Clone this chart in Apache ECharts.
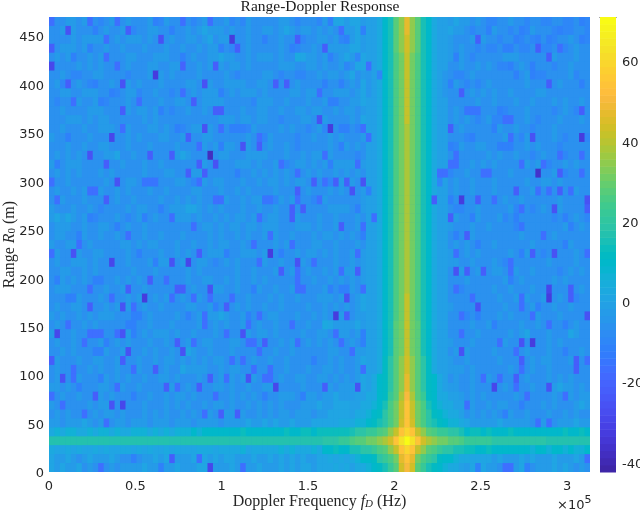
<!DOCTYPE html>
<html>
<head>
<meta charset="utf-8">
<style>html,body{margin:0;padding:0;background:#fff}#main{width:640px;height:512px}</style>
<script src="https://cdn.jsdelivr.net/npm/echarts@6/dist/echarts.min.js"></script>
</head>
<body>
<div id="main"></div>
<script>
// tick labels
var xTicks = [0, 50000, 100000, 150000, 200000, 250000, 300000];
var yTicks = [0, 50, 100, 150, 200, 250, 300, 350, 400, 450];
var barTicks = [-40, -20, 0, 20, 40, 60];

// axis extents
var xMax = 313300, yMax = 469.6, dbMin = -42.2, dbMax = 71.2;
var nCols = 99, nRows = 51;

// background cells, top row first, one character per cell: dB = code(base 36) * 3.2 - 41
// the fine texture is only approximate
var bgRows = [
  'abbccbcaba bcabcbbbcb acbbcbabcb bbcabacbbb bbccbabbba ccddcddcdd dddddddddd dcdcdccbcb aabbcbbabb aabbaabaa',
  'bbcbcbbbab cbbcbabbcc bbabbcbcdc ccbcbbcbbc cbcdcbccbc bcbcccdcdd dddddddddd ddcdccbabb bcbbabbacb bbabaabba',
  'bbbbcbcccc abcbcccbcb bbcbbccbcd bccabbcbba bbcbbcabbc cbcabcdcdd dddddddddd dcccbbbcbc bbabbaabab baabbcbba',
  'abcccbcbbb cbbcbbbcbb bcbbcbbcbc ccbabbcbbb bbcbaabbcb bccccddcdd dddddddddd dddcbcbbab aabcbbaabc aabbabcbb',
  'bcbcbbbcbc abbbccbbbc ccbbabcbbc cdccbbcbcc cbcbbedccb ccbcdcddcd dddddddddd dcbcbcbabb bbbcccbbbb bbcbbbcbb',
  'abbbbcbcbc bbbbcbbbcc bbccbbbcbc acbccbcbbb bbcccbbccb cbbcdbddcd dddddddddd dccbbcbbcb cbbabbcbab bbabbcbbb',
  'bbcbaabbcc bbbbabbbcb cbcbbbbcbb bbcbabbbbc cbabbaabbc bccbcdbcdd dddddddddd dccbbabcbb bbbbbabcba abbbbcabb',
  'bcabbcbaab bcbbcbcbbb cbbbbccbbc bbccccbbcc bbbcbcbbbb abbabcbddd dddddddddd dcbbcbabab cbbbbbbcbb bbbcbbbab',
  'bbccbbcccb bbabccabbc bbabbbcbcc ccbcbcccbc bbbbccbccc bbcccbcddd dddddddddd dcdbbbbcbc bcbbcbbbbc cbbbbbbbb',
  'babbacbbcb abbbcbabbb cbbccbbbcc ccbbbbbacc cbbcbbbcbb cabbbccdcd dddddddddd ddcbbbbbcb bcbbbcbbcb bbcbcbbcb',
  'bbcbbbbccc bbbbcbccbc bbabbcbbcb bcbbbcbbcc bbcbbccbcc bbcbccbcdd dddddddddd dccbcbaaab bbbabbbcbb bbabcbaab',
  'bbbcccbcbc cbbbbbbcbc bbbbbbbbbb bcccbccbcc bbabbbccbb cbbbbcbddd dddddddddd dccbcbcbab caabbbbcba bbbcbbbcb',
  'bbcbbbcbbc ccbbcbbbcc bcbbabccbc bcbbbbacbb bbcbcbbabc abbaababcc dddddddddd dccbbcbbbb bbcbbcbbab bbcbbbbbb',
  'cbbabbbcbb bbbbcbcbbb ccbbccbbcc bbbbbbcbba cbbbbabbcb bcbcbbbcbd dddddddddd dcbbbbabbb bbbccbacbb bbcbabbba',
  'bbbcbbcbbc cbbbcbbbcb bbbcbbbbcb cbccbbcbab cbbcbabbbb bcbacbcbdd dddddddddd dcbbacbbcc bbabbbbcbc bbbabbbbb',
  'bcbcbcbbbb ccdbbcbbcb bbccdcbbbb bccbbbcccc bbbcbbcbcc bcbbbbabcd dddddddddd dccbbbbbbb cbcbbcbbab cbbbabbcb',
  'cbbcccbbbb bbbcbbbcbb cbbbbbbbcb bbbbcccbcb bcbabccbcb cbccccacdd dddddddddd dccbbbbcbc bcbbbbbcbc babbcbcbb',
  'bcbcbcbbbc bcbbbbbcbb bccbbcccbb bbbbbbbcbc bcbcbbbcbc bbcbcbcbcd dddddddddd dcbabbcbbb abbbcbbbbb bbcbabbcb',
  'bbbcbbbbbb cbbbccbbbc bbbccbabcb ccbbbcbbcb ccbcbccbbb babcacbcdc dddddddddd dccbcbbcbb bcbbbbbcbb ccbcbbbbb',
  'bcbbcbcbbc bbcbcbbbcb bcbbbbccbb bcbbcbcbbb bcbbbbbcbb bcbcbbbcbd dddddddddd dbcbcbbcbb bcbbbcbbcb bcbcbbcbb',
  'bbcbbbcbbb bbcbbcbbbb cbbcbcbcbb bbcbbcbccb bacbccbbab cbbbbbbcdd dddddddddd dccbbcbbbb bcbcbbcbbb bbbcbbbbb',
  'cbbbcbbcba bbbbcbccbb abcccddcbc bcbbbcbbcb bcbbbbcbbb bccccbbcdd dddddddddd dcbbaabbcb bbbbcabbab cbbcbbbbb',
  'cdcdcbcbab bbcbabcbbc bbbcccbcbb cbcbccbcbb ccbbbcbbbc bbcbbbcbdd dddddddddd dcbbcbbbcb bbcabcbbbb bbabbbcba',
  'bcccbbcbbc cbcbcbbcbb bbbbbbabcc bcbccbccbc ccbbbcccbc bbcbbbcccd dddddddddd dcbcbbbcbb cbbbbabbbb bbbbcbbcb',
  'bccbbbcbbc bbcbbbbcbb cbbbcbbbbc bcbbcbcbbc bcbbcbbbcb ccbcbcbccd dddddddddd dccbcbbcbb bbbbbbcbbb abcbbbbbb',
  'cbbccbbcbb bbbccbcbcc bbbcbbcbbc bccbbcbcbb bcbcbbbbcc bbcbbbcbcd dddddddddd ddcbcbcbbb bcbbbbbbcb bbbbbcbbb',
  'acbbbcbbcc bbbbcbabbb cbbcbcbbbc ccbbbcccbc bbbbbcbccb cbcbbcbccd dddddddddd dcbcbbcbcb bbbbcbbcbb ababbbcba',
  'bcbbcccbcb bbbbcbbbcb ccbbcbbccb abcbcbbbbc bbcbbbcbbb bbcbbcbcdd dddddddddd dccccbbcbb bcbabbbbbb bcbbbbcbb',
  'bbccbbcbcb bbbbbcbbbc bbbbbcbcbb bbbbcbbcbb bcbbcbbcbb cbcbccbcdd dddddddddd ddcbbcbbcb bccbbcbbcb bbbabcbcb',
  'bacbcbcbbb bbcbcbcbbb bcbbbcbbcc bbcbcbbcbc bbbbbbbbcb bcbcbcbcdd dddddddddd dcbbbbcbbb bbbcbbcbbb bbcbcbbbb',
  'bcccbbbcbb cbbcbbbcbb bbbcbbcbbb ccbbcbbccb bcbbcbbbbb ccbbbcbcdd dddddddddd dccbbabbbb bcbbcbbbcb bcbbbbbcb',
  'bbbbbcbbbc bcbbcbcbbc bcbbcbbcbc bbbbbbcbbb cbcbbcbbbc ccbcbbcddd dddddddddd dcbbbbbcbb bbcbbcbcbb cbbcbbabb',
  'bcbbccbcbb cbcbcbbcbb cbbbbccbbc bbbbcbcbbc bbcbbbbcbb cbcbcbcddd dddddddddd dcbcbbbbcb bbbcbbcbcb bbcbbcbbb',
  'cbcbbcbcbc ccbbbbbbcb bbbcbbbcbc cdcbbcbbbb ccbbbcbbcb cbbcbbccdd dddddddddd dcbbbbabcb bbcbcbbbbc bbbcbbbbb',
  'bcbbbbcbcb bbbbbbbbcb bbcbbbbcbb cbcbbcbbcb bcbbcbbcbb edccccdcdd dddddddddd ddcbbbbcbb cbbbbbcbbc bbbbcbcbb',
  'cbbbcbbbbb bbcbcbbcbc ccbcbbcbbb cbbbbbcbcc bcbbbbcbbc cbcccbcddd dddddddddd ddcbbcbbcb bbbbcbcdbb bcbbbdcbb',
  'bcbbcbcbbc cbcbcbbbcb bcbcbcbbcc bbbccbcbbc bbcbcbbcbc bcbcbcbcdd dddddddddd dcbcbbbcbb bbccbbbbbb bcbcbbbbb',
  'bbcbcbbbbb cbbcbbbcbc bbcbcdcbbc bbbcbbbbcb bcbbcbbbbb bccbbcccdd dddddddddd dcbbcbcbbb bcbbbcbcbb bcbbcbbcb',
  'bcbbbcbbcc bbcbbbcbbc bccbcbcbcb ccbcbcbcbb cbbcbbbbcb bcbcbbcddd dddddddddd dcbcbbcbbb bbcbbbbbcb ccbbbcbbb',
  'bcbbcbbcbc bbcbbbcbbb bcbbdccccb bcbccbbcbb bbbcbbbcbb ccbcbbcddd dddddddddd dcbcccbcbb bbbbcbcbcb bcbbbbcbb',
  'bcbbbcbbbc cbcbcbbcbb ccbcbbbcbc bcccbcbcbb bbcbbccbbc cbcbcbcddd dddddddddd dccbcbbcbb cbcbbbbcbb bcbcbcbbb',
  'ccbcbcbbbc cbbcbbcbbb bbccbcbcbb ccbcbbcbbc ccbbbbcbbb bcbcccdddd dddddddddd dccccbbcbb bcbcbcbbcb bbcdccbcb',
  'bbcbbcbbbc bcbbbcbbcb bcbccbcbbb cbbcbcbcbb bbcccbbccb ccdcccdddd dddddddddd ddccbcbcbc bbbbbcbbbb bbcbbcbcc',
  'cbcbbbbcbc cbbcbbbcbb bcbcbcbbcb ccbcbbcbcb cbcbbbcccd ccddddeeee dddddddddd ddcdccbcbb cbccbbbbbb cbcbbbcdc',
  'bcbcbbbbcb ccbcbbbcbc bcbbcbcbbc bbccbcbbcb cbccbcccbc cddddddeee dddddddddd edcdccbcbc bcbccbbcbb bcbbcbcbb',
  'ccbcccdcbc cbccbcccbc ccbcccbccc cbccccdccd cdccdcccdd dddeeeeeee dddddddddd eddddcdccc ccdcccccbc ccbcccdcc',
  'efeffeefef fefeefffef efefffgfgg ggggghgggg ggghgghhgh hhhhhiiiii dddddddddd ihhhhhghhg hggghggggg gggghgghg',
  'iiiiiiiiii iiiiiiiiii iiiiiiiiii iiiiiiiiii iiiiiiiiii jjjkkddddd dddddddddd ddddddkkkk kjjjjjjjjj jiiiiiiii',
  'eddededded eddeededed dededddeee deeeefdeee eefefeeefe gghggghiii dddddddddd iihhhhhhgg hgggggggfg gfggfgffg',
  'dccdcbcdcc cdcbbcbccd cdbcccdcdc dcddcccdcc dcdcdcdccd dededefgfg dddddddddd fefeededdd dcdcccdcdc ccdcccdcc',
  'dcdccdbcbc bcbccccdcc bccdcccddc cccdcbccdc ccdcdcddcd ddededeeef dddddddddd eeddddcdcd ccbcdcdcbc ccdcdcbcb'
];

// cells along the Doppler ridge, columns 55 to 75, '.' keeps the background
var ridgeFirstCol = 55;
var ridgeRows = [
  '...ddegimosomigedd...', '...ddegimosomigedd...', '...ddegimoromigedd...', '...ddegimoromigedd...',
  '...ddegilnqnligedd...', '...ddegilnqnligedd...', '...cdegilnqnligedc...', '...cdegilnqnligedc...',
  '...cdegilnqnligedc...', '...ddegilnqnligedd...', '...ddegilnqnligedd...', '...ddegilnqnligedd...',
  '...ddegilnpnligedd...', '...ddegilnpnligedd...', '...ddegilnpnligedd...', '...ddegilnpnligedd...',
  '...ddegilnpnligedd...', '...ddegilnpnligedd...', '...ddegilnpnligedd...', '...ddegilnpnligedd...',
  '...ddegilnpnligedd...', '...ddegilnpnligedd...', '...ddegilnpnligedd...', '...ddegilnpnligedd...',
  '...ddegilnpnligedd...', '...ddegilnpnligedd...', '...ddegilnpnligedd...', '...ddegilnpnligedd...',
  '...ddegilnpnligedd...', '...ddegilnpnligedd...', '...ddegilnpnligedd...', '...ddegilnqnligedd...',
  '...ddegilnqnligedd...', '...ddegilnqnligedd...', '...ddegimnqnmigedd...', '...ddegimnqnmigedd...',
  '...ddegimnqnmigedd...', '...ddegimnqnmigedd...', '...ddehjmoromjhedd...', '...ddehjmoromjhedd...',
  '...deghjmosomjhged...', '...deghjmosomjhged...', '.ddeeghkmptpmkhgeedd.', 'ddeefgilnquqnligfeedd',
  'deefghjlnquqnljhgfeed', 'effghijlnrurnljihgffe', 'ijjkklmoquwuqomlkkjji', 'lmmnnopruxzxurponnmml',
  'iijjklmoquwuqomlkjjii', 'efgghjklnsusnlkjhggfe', 'deefghikmrtrmkihgfeed'
];

// low cells picked out one by one: row from top, column from left, dB
var dips = [
  [0,0,-17],[0,7,-17],[0,12,-17],[0,19,-12],[0,24,-17],[0,29,-17],[0,51,-12],[0,97,-12],
  [1,3,-26],[1,8,-12],[1,14,-22],[1,22,-12],[1,53,-17],[1,57,-12],[1,80,-12],[1,86,-12],[1,93,-12],
  [2,10,-17],[2,20,-26],[2,33,-32],[2,39,-12],[2,45,-22],[2,54,-12],[2,78,-22],[2,85,-12],[2,89,-12],[2,91,-12],[2,97,-12],
  [3,0,-22],[3,7,-12],[3,31,-12],[3,34,-22],[3,44,-12],[3,50,-22],[3,83,-12],[3,84,-12],[3,89,-22],[3,93,-17],
  [4,4,-12],[4,10,-17],[4,24,-12],[4,51,-12],[4,56,-10],[4,74,-12],[4,91,-22],
  [5,0,-29],[5,12,-17],[5,24,-20],[5,30,-22],[5,54,-10],[5,58,-17],[5,82,-10],[5,84,-12],[5,88,-12],
  [6,19,-33],[6,60,-10],[6,74,-10],[6,85,-12],[6,88,-12],
  [7,3,-22],[7,8,-12],[7,13,-26],[7,28,-26],[7,41,-22],[7,43,-22],[7,50,-12],[7,53,-12],[7,73,-12],[7,91,-22],[7,97,-12],
  [8,11,-12],[8,24,-17],[8,31,-12],[8,49,-17],[8,75,-22],
  [9,4,-17],[9,9,-12],[9,16,-17],[9,26,-22],[9,51,-12],[9,52,-12],
  [10,13,-22],[10,20,-12],[10,30,-22],[10,31,-22],[10,76,-15],[10,77,-15],[10,78,-15],[10,82,-12],[10,97,-22],
  [11,49,-26],[11,83,-17],[11,84,-17],
  [12,13,-17],[12,23,-12],[12,28,-26],[12,31,-17],[12,33,-12],[12,34,-12],[12,35,-12],[12,51,-32],[12,53,-12],[12,54,-12],[12,57,-17],[12,73,-22],[12,81,-12],
  [13,3,-12],[13,11,-29],[13,25,-22],[13,38,-17],[13,58,-17],[13,77,-12],[13,84,-17],[13,88,-26],[13,97,-32],
  [14,27,-17],[14,31,-12],[14,35,-26],[14,38,-22],[14,53,-12],[14,73,-12],[14,82,-12],[14,83,-12],[14,84,-12],
  [15,7,-26],[15,18,-22],[15,22,-22],[15,29,-38],[15,50,-17],[15,56,-10],[15,74,-17],[15,93,-17],[15,97,-17],
  [16,1,-12],[16,10,-22],[16,27,-22],[16,30,-26],[16,42,-17],[16,51,-12],[16,56,-17],[16,73,-17],[16,74,-17],[16,86,-17],[16,90,-17],
  [17,25,-22],[17,28,-22],[17,34,-12],[17,45,-17],[17,71,-17],[17,72,-17],[17,79,-17],[17,80,-17],[17,89,-36],[17,93,-22],[17,97,-17],
  [18,0,-17],[18,12,-26],[18,17,-15],[18,18,-15],[18,19,-15],[18,27,-17],[18,48,-22],[18,50,-17],[18,52,-22],[18,54,-22],[18,57,-26],[18,71,-10],
  [19,7,-17],[19,8,-17],[19,45,-22],[19,55,-26],[19,58,-12],[19,85,-22],[19,89,-17],[19,91,-17],[19,93,-22],[19,95,-17],
  [20,1,-17],[20,10,-22],[20,30,-17],[20,31,-17],[20,39,-15],[20,40,-15],[20,45,-17],[20,49,-17],[20,70,-22],[20,73,-12],[20,75,-32],[20,78,-22],[20,81,-17],[20,98,-26],
  [21,20,-12],[21,44,-22],[21,46,-22],[21,56,-12],[21,86,-17],[21,92,-26],[21,98,-22],
  [22,7,-12],[22,17,-12],[22,22,-17],[22,38,-17],[22,44,-22],[22,59,-17],[22,73,-22],[22,77,-12],[22,85,-12],[22,94,-12],
  [23,12,-12],[23,26,-17],[23,53,-22],[23,57,-17],[23,86,-15],[23,95,-12],
  [24,5,-12],[24,14,-17],[24,40,-17],[24,57,-12],[24,74,-12],[24,76,-22],[24,90,-17],
  [25,5,-17],[25,37,-17],[25,44,-17],[25,78,-12],[25,94,-12],
  [26,0,-17],[26,4,-26],[26,16,-12],[26,27,-22],[26,32,-12],[26,40,-32],[26,42,-12],[26,56,-17],[26,74,-17],[26,86,-12],[26,88,-22],[26,92,-26],[26,98,-17],
  [27,11,-29],[27,19,-12],[27,22,-26],[27,25,-29],[27,38,-17],[27,45,-26],[27,48,-17],[27,84,-17],
  [28,42,-22],[28,45,-17],[28,53,-17],[28,56,-22],[28,74,-26],[28,76,-22],[28,79,-22],[28,84,-17],
  [29,1,-12],[29,8,-12],[29,9,-12],[29,18,-22],[29,21,-17],[29,45,-17],[29,84,-12],
  [30,7,-17],[30,14,-22],[30,23,-22],[30,24,-22],[30,29,-26],[30,37,-12],[30,45,-17],[30,46,-17],[30,51,-12],[30,53,-12],[30,54,-12],[30,57,-17],[30,74,-17],[30,91,-29],[30,95,-22],
  [31,3,-12],[31,4,-12],[31,11,-17],[31,17,-32],[31,22,-17],[31,26,-17],[31,29,-17],[31,33,-17],[31,54,-26],[31,77,-17],[31,86,-17],[31,91,-32],[31,95,-22],
  [32,7,-22],[32,13,-26],[32,15,-17],[32,30,-12],[32,32,-22],[32,78,-26],[32,86,-17],[32,89,-12],
  [33,15,-12],[33,16,-12],[33,25,-12],[33,28,-17],[33,36,-12],[33,38,-17],[33,52,-32],[33,54,-22],[33,75,-17],[33,78,-12],[33,88,-17],[33,98,-26],
  [34,3,-17],[34,14,-12],[34,15,-12],[34,28,-17],[34,36,-17],[34,44,-17],[34,81,-12],[34,91,-17],[34,94,-12],
  [35,1,-29],[35,7,-17],[35,8,-17],[35,9,-17],[35,12,-17],[35,13,-26],[35,15,-12],[35,32,-17],[35,35,-26],[35,52,-17],[35,57,-12],[35,75,-17],
  [36,6,-17],[36,10,-12],[36,23,-22],[36,26,-17],[36,36,-17],[36,37,-17],[36,39,-22],[36,45,-17],[36,53,-17],[36,57,-12],[36,82,-17],[36,86,-26],[36,88,-32],
  [37,8,-12],[37,9,-12],[37,14,-26],[37,24,-26],[37,38,-17],[37,55,-17],[37,75,-26],[37,85,-17],[37,94,-12],
  [38,0,-22],[38,13,-22],[38,33,-17],[38,35,-17],[38,48,-12],[38,86,-22],[38,96,-22],[38,98,-17],
  [39,4,-17],[39,15,-17],[39,19,-22],[39,37,-17],[39,40,-17],[39,57,-17],[39,86,-17],[39,96,-22],
  [40,2,-26],[40,4,-17],[40,9,-12],[40,29,-22],[40,32,-17],[40,36,-26],[40,39,-17],[40,40,-17],[40,79,-17],[40,82,-17],[40,85,-22],
  [41,5,-12],[41,12,-17],[41,21,-22],[41,23,-17],[41,27,-22],[41,41,-29],[41,50,-22],[41,56,-26],[41,81,-29],[41,85,-17],[41,91,-26],
  [42,0,-17],[42,8,-22],[42,15,-12],[42,30,-17],[42,39,-12],[42,46,-12],[42,87,-17],[42,94,-17],
  [43,2,-17],[43,11,-26],[43,13,-29],[43,76,-17],[43,86,-12],
  [44,6,-17],[44,28,-17],[44,31,-22],[44,34,-22],[44,83,-12],
  [45,10,-17],[45,89,-17],[45,91,-17],
  [49,15,-12],[49,22,-22],[49,27,-17],[49,98,-17],
  [50,9,-17],[50,20,-12],[50,29,-29],[50,35,-17],[50,78,-12],[50,83,-17],[50,84,-17],[50,87,-12]
];

// parula, 64 steps
var parula = [
  [.2422,.1504,.6603],[.2504,.1650,.7076],[.2578,.1818,.7511],[.2647,.1978,.7952],[.2706,.2147,.8364],[.2751,.2342,.8710],
  [.2783,.2559,.8991],[.2803,.2782,.9221],[.2813,.3006,.9414],[.2810,.3228,.9579],[.2795,.3447,.9717],[.2760,.3667,.9829],
  [.2699,.3892,.9906],[.2602,.4123,.9952],[.2440,.4358,.9988],[.2206,.4603,.9973],[.1963,.4847,.9892],[.1834,.5074,.9798],
  [.1786,.5289,.9682],[.1764,.5499,.9520],[.1687,.5703,.9359],[.1540,.5902,.9218],[.1460,.6091,.9079],[.1380,.6276,.8973],
  [.1248,.6459,.8883],[.1113,.6635,.8763],[.0952,.6798,.8598],[.0689,.6948,.8394],[.0297,.7082,.8163],[.0036,.7203,.7917],
  [.0067,.7312,.7660],[.0433,.7411,.7394],[.0964,.7500,.7120],[.1408,.7584,.6842],[.1717,.7670,.6554],[.1938,.7758,.6251],
  [.2161,.7843,.5923],[.2470,.7918,.5567],[.2906,.7973,.5188],[.3406,.8008,.4789],[.3909,.8029,.4354],[.4456,.8024,.3909],
  [.5044,.7993,.3480],[.5616,.7942,.3045],[.6174,.7876,.2612],[.6720,.7793,.2227],[.7242,.7698,.1910],[.7738,.7598,.1646],
  [.8203,.7498,.1535],[.8634,.7406,.1596],[.9035,.7330,.1774],[.9393,.7288,.2100],[.9728,.7298,.2394],[.9956,.7434,.2371],
  [.9970,.7659,.2199],[.9952,.7893,.2028],[.9892,.8136,.1885],[.9786,.8386,.1766],[.9676,.8639,.1643],[.9610,.8890,.1537],
  [.9597,.9135,.1423],[.9628,.9373,.1265],[.9691,.9606,.1064],[.9769,.9839,.0805]
].map(function (c) {
  return 'rgb(' + c.map(function (v) { return Math.round(v * 255); }).join(',') + ')';
});

function colorOf(db) {
  var i = Math.floor((db - dbMin) / (dbMax - dbMin) * parula.length);
  return parula[Math.max(0, Math.min(parula.length - 1, i))];
}

function decode(ch) {
  return parseInt(ch, 36) * 3.2 - 41;
}

function decodeRidge(ch) {
  return parseInt(ch, 36) * 3.2 - 42;
}

// build the table of cells
var grid = bgRows.map(function (s) {
  return s.replace(/ /g, '').split('').map(decode);
});
ridgeRows.forEach(function (s, r) {
  s.split('').forEach(function (ch, i) {
    if (ch !== '.') grid[r][ridgeFirstCol + i] = decodeRidge(ch);
  });
});
dips.forEach(function (d) {
  grid[d[0]][d[1]] = d[2];
});

var cellW = xMax / nCols, cellH = yMax / nRows;
var cells = [];
for (var r = 0; r < nRows; r++) {
  for (var c = 0; c < nCols; c++) {
    var v = grid[r][c];
    cells.push([c * cellW, yMax - (r + 1) * cellH, v === undefined ? -5 : v]);
  }
}

// colour bar steps
var barSteps = parula.map(function (col, i) {
  var h = (dbMax - dbMin) / parula.length;
  return [0, dbMin + i * h, h, i];
});

var chart = echarts.init(document.getElementById('main'));

var tickFont = { fontFamily: 'DejaVu Sans', fontSize: 13, color: '#262626' };
var nameFont = { fontFamily: 'Liberation Serif', fontSize: 16, color: '#262626' };

chart.setOption({
  animation: false,
  title: {
    text: 'Range-Doppler Response',
    left: 315,
    top: -6,
    textAlign: 'center',
    textStyle: { fontFamily: 'Liberation Serif', fontSize: 15.5, fontWeight: 'normal', color: '#1a1a1a' }
  },
  grid: [
    { left: 49, top: 17, width: 541, height: 455, backgroundColor: '#2692eb', show: true, borderWidth: 0, outerBoundsMode: 'none' },
    { left: 600, top: 17, width: 16, height: 455, outerBoundsMode: 'none' }
  ],
  xAxis: [
    {
      gridIndex: 0, type: 'value', min: 0, max: xMax,
      splitLine: { show: false }, axisLine: { show: false }, axisTick: { show: false },
      axisLabel: Object.assign({}, tickFont, {
        margin: 8,
        customValues: xTicks,
        formatter: function (v) { return String(v / 100000); }
      }),
      name: '{t|Doppler Frequency }{i|f}{s|D}{t| (Hz)}',
      nameLocation: 'middle',
      nameGap: 21,
      nameMoveOverlap: false,
      nameTextStyle: {
        rich: {
          t: nameFont,
          i: { fontFamily: 'Liberation Serif', fontStyle: 'italic', fontSize: 16, color: '#262626' },
          s: { fontFamily: 'Liberation Serif', fontStyle: 'italic', fontSize: 11, color: '#262626', verticalAlign: 'bottom', padding: [6, 0, 0, 0] }
        }
      }
    },
    {
      gridIndex: 1, type: 'value', min: 0, max: 1, position: 'top',
      splitLine: { show: false }, axisTick: { show: false }, axisLabel: { show: false },
      axisLine: { show: true, onZero: false, lineStyle: { color: '#262626', width: 1 } }
    }
  ],
  yAxis: [
    {
      gridIndex: 0, type: 'value', min: 0, max: yMax,
      splitLine: { show: false }, axisLine: { show: false }, axisTick: { show: false },
      axisLabel: {
        margin: 5,
        customValues: yTicks,
        formatter: function (v) { return '{p|' + v + '}'; },
        rich: { p: Object.assign({}, tickFont, { padding: [4, 0, 0, 0] }) }
      },
      name: '{t|Range }{i|R}{s|0}{t| (m)}',
      nameLocation: 'middle',
      nameGap: 31,
      nameMoveOverlap: false,
      nameTextStyle: {
        rich: {
          t: nameFont,
          i: { fontFamily: 'Liberation Serif', fontStyle: 'italic', fontSize: 16, color: '#262626' },
          s: { fontFamily: 'Liberation Serif', fontSize: 11, color: '#262626', verticalAlign: 'bottom', padding: [6, 0, 0, 0] }
        }
      }
    },
    {
      gridIndex: 1, type: 'value', min: dbMin, max: dbMax, position: 'right',
      splitLine: { show: false }, axisLine: { show: false }, axisTick: { show: false },
      axisLabel: {
        margin: 6,
        customValues: barTicks,
        formatter: function (v) { return '{p|' + v + '}'; },
        rich: { p: Object.assign({}, tickFont, { padding: [2, 0, 0, 0] }) }
      }
    }
  ],
  series: [
    {
      type: 'custom',
      xAxisIndex: 0,
      yAxisIndex: 0,
      data: cells,
      clip: true,
      silent: true,
      progressive: 0,
      renderItem: function (params, api) {
        var a = api.coord([api.value(0), api.value(1) + cellH]);
        var b = api.coord([api.value(0) + cellW, api.value(1)]);
        return {
          type: 'rect',
          shape: { x: a[0], y: a[1], width: b[0] - a[0] + 0.5, height: b[1] - a[1] + 0.5 },
          style: { fill: colorOf(api.value(2)) }
        };
      }
    },
    {
      type: 'custom',
      xAxisIndex: 1,
      yAxisIndex: 1,
      data: barSteps,
      silent: true,
      renderItem: function (params, api) {
        var a = api.coord([0, api.value(1) + api.value(2)]);
        var b = api.coord([1, api.value(1)]);
        return {
          type: 'rect',
          shape: { x: a[0], y: a[1], width: b[0] - a[0], height: b[1] - a[1] + 0.5 },
          style: { fill: parula[api.value(3)] }
        };
      }
    }
  ],
  graphic: [
    {
      type: 'text',
      left: 557,
      top: 495,
      style: {
        text: '{a|×10}{b|5}',
        rich: {
          a: { fontFamily: 'DejaVu Sans', fontSize: 13, fill: '#262626', padding: [4, 0, 0, 0] },
          b: { fontFamily: 'DejaVu Sans', fontSize: 11, fill: '#262626', verticalAlign: 'top' }
        }
      }
    }
  ]
});
</script>
</body>
</html>
